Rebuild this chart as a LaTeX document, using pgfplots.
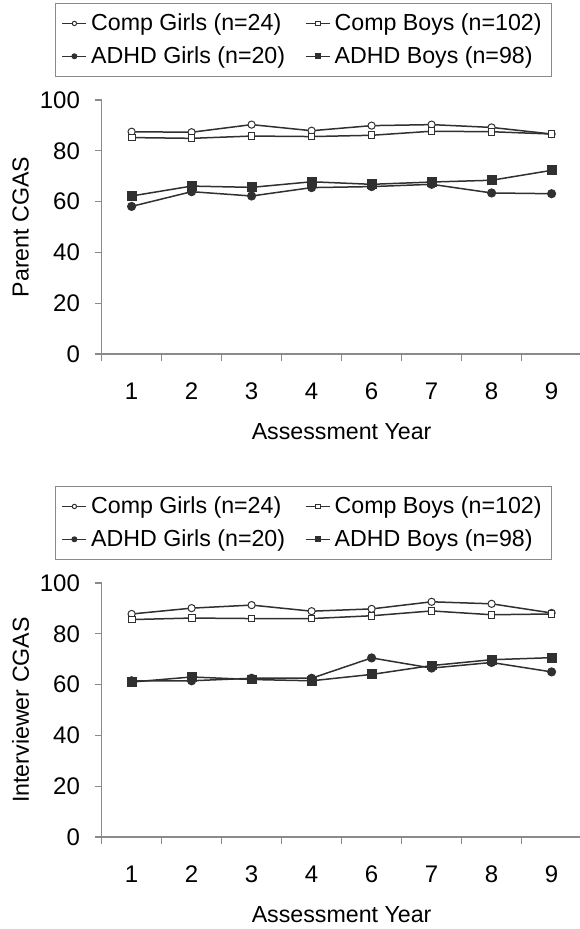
\documentclass[border=0pt]{standalone}
\usepackage{fontspec}
\setmainfont{Liberation Sans}
\usepackage{pgfplots}
\pgfplotsset{compat=1.18}
\definecolor{ln}{HTML}{303030}
\definecolor{ax}{HTML}{8A8A8A}
\newcommand{\ff}{\fontsize{11.6pt}{13pt}\selectfont}
\newcommand{\ft}{\fontsize{12pt}{14pt}\selectfont}
\pgfplotsset{
 panel/.style={
  scale only axis, width=240pt, height=127pt,
  xmin=0.5, xmax=8.5, ymin=0, ymax=100,
  axis x line*=bottom, axis y line*=left,
  axis line style={ax, line width=0.6pt},
  xtick={1,...,8}, xticklabels={1,2,3,4,6,7,8,9},
  major x tick style={draw=none},
  minor xtick={0.5,1.5,...,8.5},
  ytick={0,20,...,100},
  tick align=outside, major tick length=3.3pt, minor tick length=3.3pt,
  tick style={ax, line width=0.6pt},
  every tick label/.append style={font=\ft},
  xticklabel style={yshift=-7.5pt},
  yticklabel style={xshift=-4pt},
  /pgf/number format/assume math mode=true,
  xlabel={Assessment Year},
  every axis x label/.style={at={(axis description cs:0.5,0)}, anchor=center, yshift=-39pt, font=\ff},
  every axis y label/.style={at={(axis description cs:0,0.5)}, anchor=center, rotate=90, yshift=40.5pt, font=\ff},
  legend columns=2,
  legend cell align=left,
  legend style={at={(axis description cs:-0.097,1.382)}, anchor=north west, draw=ax, line width=0.6pt, font=\ff,
    row sep=2.5pt, inner ysep=3pt,
    /tikz/every even column/.append style={column sep=8pt}},
  legend image code/.code={\draw[mark repeat=2,mark phase=2] plot coordinates {(0pt,0pt)(6pt,0pt)(12pt,0pt)};},
  legend image post style={mark size=1.1pt},
  clip=false,
 },
 cg/.style={color=ln, line width=0.75pt, mark=*, mark size=1.8pt, mark options={fill=white, draw=ln, line width=0.5pt}},
 cb/.style={color=ln, line width=0.75pt, mark=square*, mark size=1.7pt, mark options={fill=white, draw=ln, line width=0.5pt}},
 ag/.style={color=ln, line width=0.75pt, mark=*, mark size=1.9pt, mark options={fill=ln, draw=ln}},
 ab/.style={color=ln, line width=0.75pt, mark=square*, mark size=2.1pt, mark options={fill=ln, draw=ln}},
}
\begin{document}
\begin{tikzpicture}
\useasboundingbox (0,0) rectangle (289.5pt,464.5pt);
\begin{axis}[panel, at={(50.8pt,287.5pt)}, anchor=south west, ylabel={Parent CGAS}]
\addplot[cg] coordinates {(1,87.5)(2,87.3)(3,90.3)(4,87.9)(5,89.9)(6,90.3)(7,89.2)(8,86.6)};
\addlegendentry{Comp Girls (n=24)}
\addplot[cb] coordinates {(1,85.2)(2,84.9)(3,85.8)(4,85.6)(5,86.1)(6,87.7)(7,87.5)(8,86.6)};
\addlegendentry{Comp Boys (n=102)}
\addplot[ag] coordinates {(1,58.1)(2,63.9)(3,62.2)(4,65.5)(5,65.9)(6,66.8)(7,63.4)(8,63.1)};
\addlegendentry{ADHD Girls (n=20)}
\addplot[ab] coordinates {(1,62.2)(2,66.1)(3,65.6)(4,67.8)(5,66.8)(6,67.7)(7,68.4)(8,72.3)};
\addlegendentry{ADHD Boys (n=98)}
\end{axis}
\begin{axis}[panel, at={(50.8pt,46pt)}, anchor=south west, ylabel={Interviewer CGAS}]
\addplot[cg] coordinates {(1,87.8)(2,90.1)(3,91.3)(4,88.9)(5,89.8)(6,92.6)(7,91.8)(8,88.2)};
\addlegendentry{Comp Girls (n=24)}
\addplot[cb] coordinates {(1,85.6)(2,86.2)(3,86.0)(4,86.0)(5,87.1)(6,89.0)(7,87.5)(8,87.8)};
\addlegendentry{Comp Boys (n=102)}
\addplot[ag] coordinates {(1,61.5)(2,61.5)(3,62.5)(4,62.5)(5,70.5)(6,66.5)(7,68.7)(8,65.0)};
\addlegendentry{ADHD Girls (n=20)}
\addplot[ab] coordinates {(1,61.0)(2,63.0)(3,62.0)(4,61.5)(5,64.0)(6,67.5)(7,69.8)(8,70.6)};
\addlegendentry{ADHD Boys (n=98)}
\end{axis}
\end{tikzpicture}
\end{document}
